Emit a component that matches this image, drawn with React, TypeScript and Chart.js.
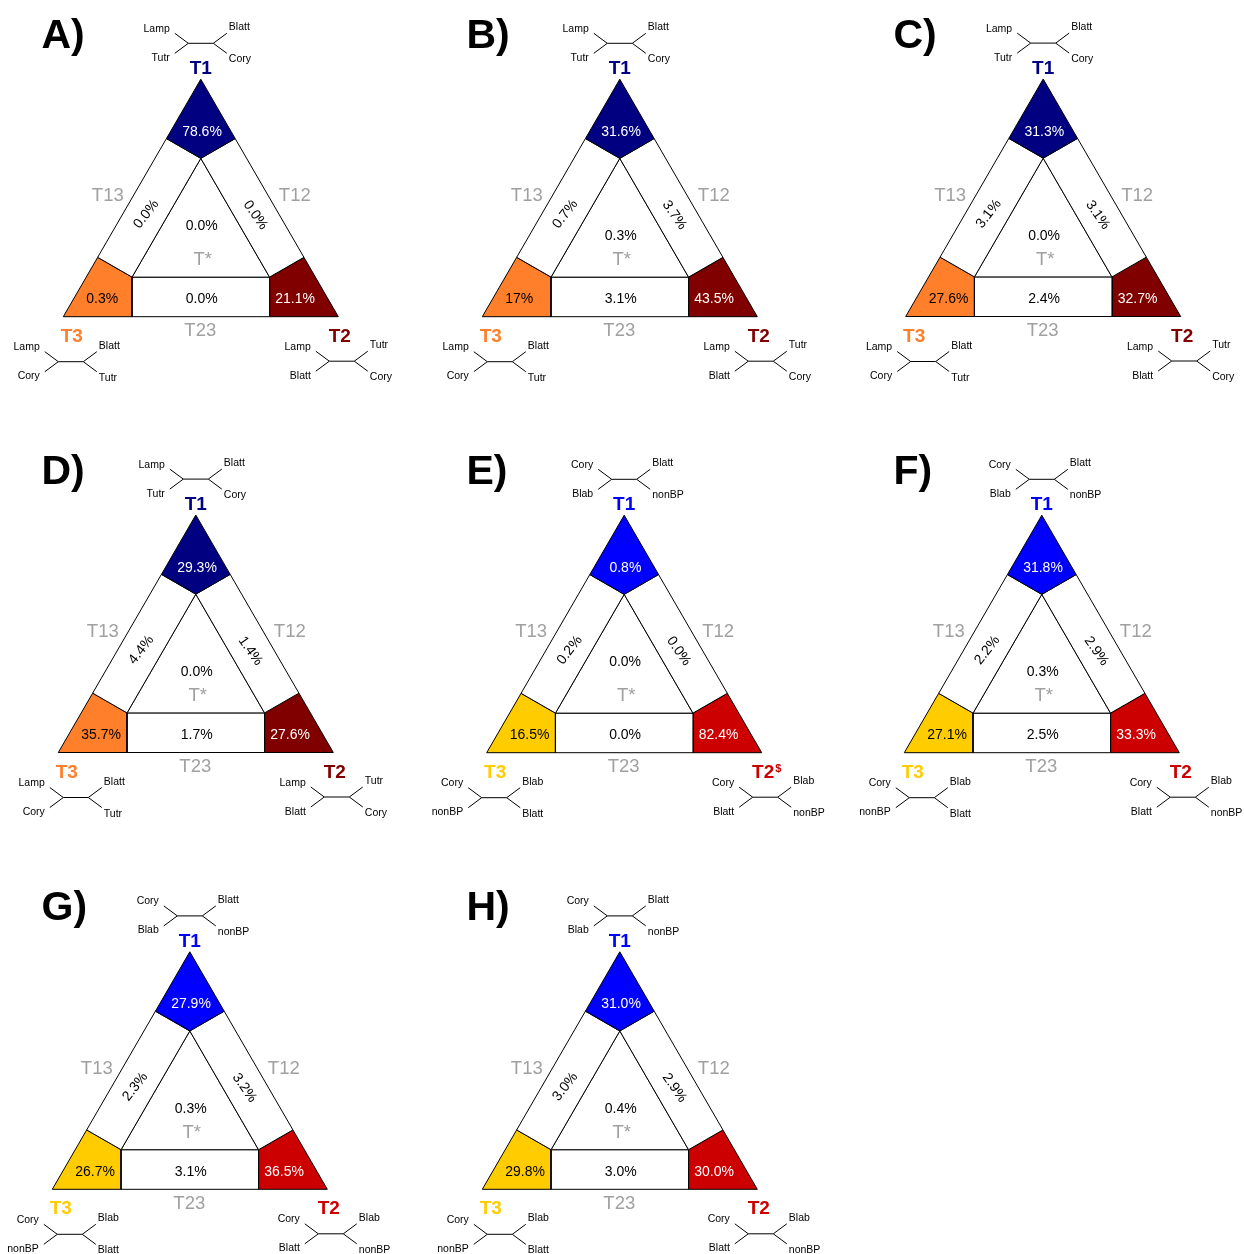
import React, { useEffect, useRef } from "react";
import { Chart, registerables } from "chart.js";

Chart.register(...registerables);

// ---- data -------------------------------------------------------------
const panelLetters = ["A", "B", "C", "D", "E", "F", "G", "H"];
// percentages of quartets falling in each of the seven regions
const t1Pct = ["78.6", "31.6", "31.3", "29.3", "0.8", "31.8", "27.9", "31.0"];
const t2Pct = ["21.1", "43.5", "32.7", "27.6", "82.4", "33.3", "36.5", "30.0"];
const t3Pct = ["0.3", "17", "27.6", "35.7", "16.5", "27.1", "26.7", "29.8"];
const t12Pct = ["0.0", "3.7", "3.1", "1.4", "0.0", "2.9", "3.2", "2.9"];
const t13Pct = ["0.0", "0.7", "3.1", "4.4", "0.2", "2.2", "2.3", "3.0"];
const t23Pct = ["0.0", "3.1", "2.4", "1.7", "0.0", "2.5", "3.1", "3.0"];
const tStarPct = ["0.0", "0.3", "0.0", "0.0", "0.0", "0.3", "0.3", "0.4"];
// superscript marks after the T2 label
const t2Marks = ["", "", "", "", "$", "", "", ""];
// which taxon set each panel uses
const taxonSet = [0, 0, 0, 0, 1, 1, 1, 1];
// tree tips: upper-left, lower-left, upper-right, lower-right
const treeT1 = [
  ["Lamp", "Tutr", "Blatt", "Cory"],
  ["Cory", "Blab", "Blatt", "nonBP"],
];
const treeT3 = [
  ["Lamp", "Cory", "Blatt", "Tutr"],
  ["Cory", "nonBP", "Blab", "Blatt"],
];
const treeT2 = [
  ["Lamp", "Blatt", "Tutr", "Cory"],
  ["Cory", "Blatt", "Blab", "nonBP"],
];

// ---- styles & layout ----------------------------------------------------
const palettes = [
  { t1: "#000080", t2: "#800000", t3: "#ff7f2a" },
  { t1: "#0000ff", t2: "#cc0000", t3: "#ffcc00" },
];
const GRAY = "#a0a0a0";
const FONT = '"Liberation Sans", Arial, Helvetica, sans-serif';
const SIDE = 275;
const HEIGHT = 237.5;
// lower-left corner of each triangle
const triangleOrigins = [
  [63.3, 316.7], [482.3, 316.7], [905.7, 316.5],
  [58.3, 752.5], [486.7, 752.7], [904.3, 752.7],
  [52.3, 1189.3], [482.3, 1189.3],
];
const letterCols = [41.5, 466.5, 893.5];
const letterRows = [47.5, 483.5, 920];
const compactPanel = [true, false, false, false, true, false, false, false];

// region outlines in triangle units (u across, v up)
const regionShapes: Record<string, number[][]> = {
  t1: [[0.5, 1], [0.375, 0.75], [0.5, 2 / 3], [0.625, 0.75]],
  t13: [[0.375, 0.75], [0.125, 0.25], [0.25, 1 / 6], [0.5, 2 / 3]],
  t12: [[0.625, 0.75], [0.5, 2 / 3], [0.75, 1 / 6], [0.875, 0.25]],
  tStar: [[0.5, 2 / 3], [0.25, 1 / 6], [0.75, 1 / 6]],
  t23: [[0.25, 1 / 6], [0.25, 0], [0.75, 0], [0.75, 1 / 6]],
  t3: [[0, 0], [0.25, 0], [0.25, 1 / 6], [0.125, 0.25]],
  t2: [[1, 0], [0.875, 0.25], [0.75, 1 / 6], [0.75, 0]],
};

function regionFill(key: string, p: number) {
  const pal = palettes[taxonSet[p]];
  if (key === "t1") return pal.t1;
  if (key === "t2") return pal.t2;
  if (key === "t3") return pal.t3;
  return "#ffffff";
}

function treeCentres(p: number) {
  const [bx, by] = triangleOrigins[p];
  return {
    top: [bx + SIDE / 2, by - 273.4],
    left: [bx + (compactPanel[p] ? 7.5 : 17.5), by + 45],
    right: [bx + SIDE + 3.5, by + 44.5],
  };
}

function treeLines(cx: number, cy: number) {
  return [
    [{ x: cx - 26, y: cy - 10 }, { x: cx - 12.5, y: cy }, { x: cx - 26, y: cy + 10 }],
    [{ x: cx - 12.5, y: cy }, { x: cx + 12.5, y: cy }, { x: cx + 26, y: cy - 10 }],
    [{ x: cx + 12.5, y: cy }, { x: cx + 26, y: cy + 10 }],
  ];
}

function buildDatasets() {
  const sets: any[] = [];
  panelLetters.forEach((_, p) => {
    const [bx, by] = triangleOrigins[p];
    Object.keys(regionShapes).forEach((key) => {
      const pts = regionShapes[key].map(([u, v]) => ({ x: bx + u * SIDE, y: by - v * HEIGHT }));
      pts.push({ ...pts[0] });
      sets.push({
        data: pts,
        fill: "shape",
        backgroundColor: regionFill(key, p),
        borderColor: "#000000",
        borderWidth: 1,
        pointRadius: 0,
        tension: 0,
      });
    });
    const c = treeCentres(p);
    [c.top, c.left, c.right].forEach(([cx, cy]) => {
      treeLines(cx, cy).forEach((seg) =>
        sets.push({
          data: seg,
          fill: false,
          borderColor: "#000000",
          borderWidth: 1,
          pointRadius: 0,
          tension: 0,
        })
      );
    });
  });
  return sets;
}

const labelPlugin = {
  id: "triangleLabels",
  afterDatasetsDraw(chart: any) {
    const ctx: CanvasRenderingContext2D = chart.ctx;
    const xs = chart.scales.x;
    const ys = chart.scales.y;
    const px = (v: number) => xs.getPixelForValue(v);
    const py = (v: number) => ys.getPixelForValue(v);
    const text = (
      s: string, x: number, y: number, font: string, color: string,
      align: CanvasTextAlign = "center", base: CanvasTextBaseline = "alphabetic", rot = 0
    ) => {
      ctx.save();
      ctx.font = font;
      ctx.fillStyle = color;
      ctx.textAlign = align;
      ctx.textBaseline = base;
      ctx.translate(px(x), py(y));
      if (rot) ctx.rotate(rot);
      ctx.fillText(s, 0, 0);
      ctx.restore();
    };
    const tipFont = `10.5px ${FONT}`;
    const treeLabels = (names: string[], cx: number, cy: number) => {
      text(names[0], cx - 31, cy - 11.5, tipFont, "#000", "right");
      text(names[1], cx - 31, cy + 17.5, tipFont, "#000", "right");
      text(names[2], cx + 28, cy - 13, tipFont, "#000", "left");
      text(names[3], cx + 28, cy + 19, tipFont, "#000", "left");
    };
    const deg = Math.PI / 180;

    panelLetters.forEach((letter, p) => {
      const [bx, by] = triangleOrigins[p];
      const brx = bx + SIDE;
      const cx = bx + SIDE / 2;
      const pal = palettes[taxonSet[p]];
      const s = taxonSet[p];

      text(`${letter})`, letterCols[p % 3], letterRows[Math.floor(p / 3)], `bold 41px ${FONT}`, "#000", "left");

      const c = treeCentres(p);
      treeLabels(treeT1[s], c.top[0], c.top[1]);
      treeLabels(treeT3[s], c.left[0], c.left[1]);
      treeLabels(treeT2[s], c.right[0], c.right[1]);

      const bold = `bold 19px ${FONT}`;
      text("T1", cx, by - 242.7, bold, pal.t1);
      text("T3", bx + 8.5, by + 25, bold, pal.t3);
      text("T2", brx + 1.5, by + 25, bold, pal.t2);
      if (t2Marks[p]) {
        ctx.save();
        ctx.font = bold;
        const w = ctx.measureText("T2").width;
        ctx.restore();
        text(t2Marks[p], brx + 1.5 + w / 2 + 1, by + 19, `bold 11px ${FONT}`, pal.t2, "left");
      }

      const grey = `18.5px ${FONT}`;
      text("T13", bx + 44.5, by - 115.7, grey, GRAY);
      text("T12", brx - 43.5, by - 115.7, grey, GRAY);
      text("T23", bx + 137, by + 19.5, grey, GRAY);
      text("T*", bx + 139.5, by - 51.7, grey, GRAY);

      const val = `14px ${FONT}`;
      text(`${t1Pct[p]}%`, bx + 138.7, by - 181, val, "#ffffff");
      text(`${t13Pct[p]}%`, bx + 83, by - 102.5, val, "#000", "center", "middle", -52 * deg);
      text(`${t12Pct[p]}%`, bx + 192, by - 101.5, val, "#000", "center", "middle", 55 * deg);
      text(`${tStarPct[p]}%`, bx + 138.4, by - (compactPanel[p] ? 86.7 : 76.7), val, "#000");
      text(`${t23Pct[p]}%`, bx + 138.4, by - 13.7, val, "#000");
      text(`${t3Pct[p]}%`, bx + 23, by - 13.7, val, "#000", "left");
      text(`${t2Pct[p]}%`, brx - 63, by - 13.7, val, "#ffffff", "left");
    });
  },
};

export default function App() {
  const canvasRef = useRef<HTMLCanvasElement>(null);

  useEffect(() => {
    if (!canvasRef.current) return;
    const chart = new Chart(canvasRef.current, {
      type: "line",
      data: { datasets: buildDatasets() },
      options: {
        animation: false,
        responsive: false,
        events: [],
        layout: { padding: 0 },
        plugins: { legend: { display: false }, tooltip: { enabled: false } },
        scales: {
          x: { type: "linear", min: 0, max: 1244, display: false },
          y: { type: "linear", min: 0, max: 1254, reverse: true, display: false },
        },
      },
      plugins: [labelPlugin],
    } as any);
    return () => chart.destroy();
  }, []);

  return (
    <div style={{ position: "absolute", left: 0, top: 0, width: 1244, height: 1254, background: "#ffffff" }}>
      <canvas ref={canvasRef} width={1244} height={1254} style={{ display: "block" }} />
    </div>
  );
}
